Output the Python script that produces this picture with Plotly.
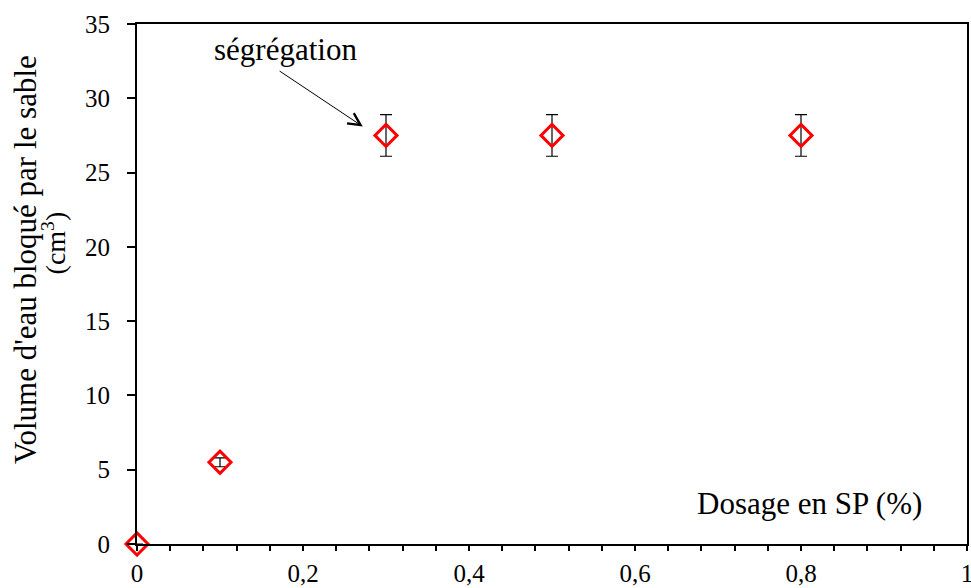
import plotly.graph_objects as go

dosage = [0, 0.1, 0.3, 0.5, 0.8]
volume = [0, 5.5, 27.5, 27.5, 27.5]
erreur = [0, 0.3, 1.4, 1.4, 1.4]
x_ticks = [0, 0.2, 0.4, 0.6, 0.8, 1]
x_ticktext = ["0", "0,2", "0,4", "0,6", "0,8", "1"]
y_ticks = [0, 5, 10, 15, 20, 25, 30, 35]

font = "Liberation Serif"

fig = go.Figure()
fig.add_trace(go.Scatter(
    x=dosage, y=volume, mode="markers",
    error_y=dict(type="data", array=erreur, visible=True, color="black",
                 thickness=1.2, width=6),
    marker=dict(symbol="diamond-open", size=17, color="red",
                line=dict(width=3, color="red")),
    cliponaxis=False, showlegend=False,
))

fig.add_annotation(x=0.272, y=28.1, ax=0.17, ay=31.9, xref="x", yref="y",
                   axref="x", ayref="y", text="", showarrow=True,
                   arrowhead=5, arrowsize=2.4, arrowwidth=1, arrowcolor="black")
fig.add_annotation(x=0.1795, y=33.28, xref="x", yref="y", text="ségrégation",
                   showarrow=False, font=dict(family=font, size=31, color="black"))
fig.add_annotation(x=0.81, y=2.75, xref="x", yref="y", text="Dosage en SP (%)",
                   showarrow=False, font=dict(family=font, size=31, color="black"))

# y-axis title, two lines placed separately
fig.add_annotation(x=-0.135, y=0.548, xref="paper", yref="paper",
                   text="Volume d'eau bloqué par le sable", textangle=-90,
                   showarrow=False, xanchor="center", yanchor="middle",
                   font=dict(family=font, size=31, color="black"))
fig.add_annotation(x=-0.1, y=0.578, xref="paper", yref="paper",
                   text="(cm<sup>3</sup>)", textangle=-90,
                   showarrow=False, xanchor="center", yanchor="middle",
                   font=dict(family=font, size=28, color="black"))

fig.update_layout(
    width=971, height=588,
    margin=dict(l=137, r=4, t=24, b=44, autoexpand=False),
    paper_bgcolor="white", plot_bgcolor="white",
    font=dict(family=font, size=25, color="black"),
    xaxis=dict(range=[0, 1], tickvals=x_ticks, ticktext=x_ticktext,
               showgrid=False, zeroline=False, showline=True, linecolor="black",
               linewidth=2, mirror=True, ticks="outside", ticklen=5,
               tickcolor="black", tickwidth=1.5, ticklabelstandoff=1,
               ticklabeloverflow="allow", automargin=False,
               minor=dict(dtick=0.04, ticks="outside", ticklen=5,
                          tickcolor="black", tickwidth=1.5, showgrid=False),
               tickfont=dict(family=font, size=25, color="black")),
    yaxis=dict(range=[0, 35], tickvals=y_ticks, showgrid=False, zeroline=False,
               showline=True, linecolor="black", linewidth=2, mirror=True,
               ticks="outside", ticklen=8, tickcolor="black", tickwidth=1.5,
               ticklabelstandoff=12, ticklabeloverflow="allow", automargin=False,
               tickfont=dict(family=font, size=25, color="black")),
)

fig.write_html(
    "out.html",
    config={"displayModeBar": False},
    post_script="document.body.style.margin='0';document.body.style.overflow='hidden';",
)
